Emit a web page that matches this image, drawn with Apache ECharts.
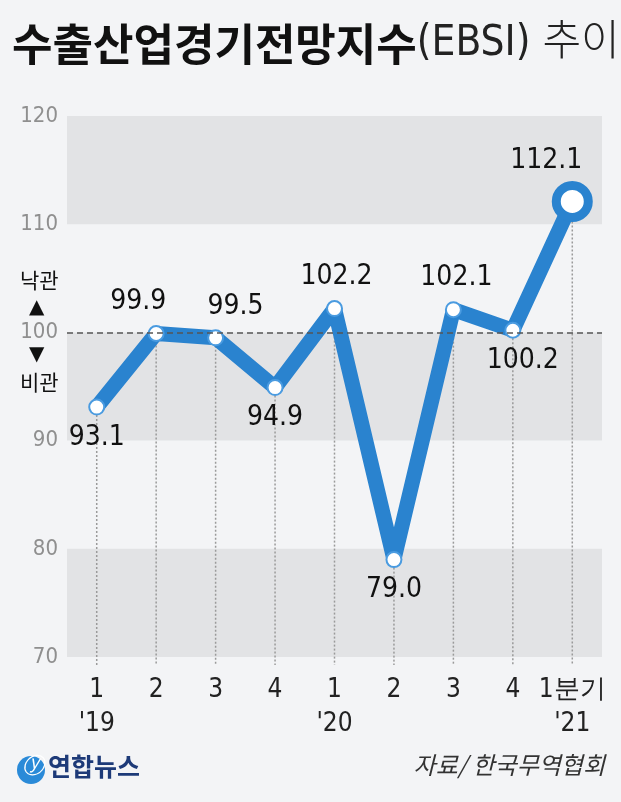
<!DOCTYPE html>
<html><head><meta charset="utf-8">
<script src="https://cdn.jsdelivr.net/npm/echarts@6/dist/echarts.min.js"></script>
<style>html,body{margin:0;padding:0;background:#f3f4f6}#c{width:621px;height:802px}</style>
</head><body><div id="c"></div>
<script>
const quarters = ['1','2','3','4','1','2','3','4','1분기'];
const years = ["'19",'','','',"'20",'','','',"'21"];
const ebsi = [93.1, 99.9, 99.5, 94.9, 102.2, 79.0, 102.1, 100.2, 112.1];
const labelPos = ['bottom','top','top','bottom','top','bottom','top','bottom','top'];
const labelShiftX = [0, -18, 20, 0, 2, 0, 3, 10, -26];
const yTicks = [70, 80, 90, 100, 110, 120];

const chart = echarts.init(document.getElementById('c'));
const numFont = "'DejaVu Sans Condensed','Liberation Sans Narrow','Liberation Sans',Arial,sans-serif";
const blue = '#2a83cf';

const seriesData = ebsi.map((v, i) => {
  const last = i === ebsi.length - 1;
  return {
    value: v,
    symbolSize: last ? 32 : 15,
    itemStyle: { color: '#ffffff', borderColor: last ? blue : '#4a9be0', borderWidth: last ? 9 : 2 },
    label: { position: labelPos[i], offset: [labelShiftX[i], 0], distance: last ? 6 : (labelPos[i] === 'top' ? 9 : 8) }
  };
});

chart.setOption({
  backgroundColor: '#f3f4f6',
  animation: false,
  grid: { left: 67, right: 19, top: 116, bottom: 145 },
  xAxis: {
    type: 'category',
    data: quarters.map((q, i) => q + '\n' + years[i]),
    boundaryGap: true,
    axisLine: { show: false },
    axisTick: { show: false },
    axisLabel: { color: '#222', fontSize: 26, fontFamily: numFont, lineHeight: 34, margin: 16, interval: 0 }
  },
  yAxis: {
    type: 'value',
    min: 70, max: 120, interval: 10,
    axisLine: { show: false },
    axisTick: { show: false },
    splitLine: { show: false },
    splitArea: { show: true, areaStyle: { color: ['#e2e3e5', 'rgba(0,0,0,0)'] } },
    axisLabel: { color: '#8f8f8f', fontSize: 22, fontFamily: numFont, margin: 9 }
  },
  series: [
    {
      type: 'custom',
      z: 1,
      data: ebsi.map((v, i) => [i, v]),
      renderItem: function (params, api) {
        const p = api.coord([api.value(0), api.value(1)]);
        const b = api.coord([api.value(0), 70]);
        return {
          type: 'line',
          shape: { x1: p[0], y1: p[1], x2: b[0], y2: b[1] + 8 },
          style: { stroke: '#9a9a9a', lineWidth: 1.5, lineDash: [2, 2] }
        };
      },
      silent: true
    },
    {
      type: 'line',
      z: 3,
      data: seriesData,
      symbol: 'circle',
      lineStyle: { color: blue, width: 15, cap: 'round', join: 'round' },
      label: { show: true, color: '#111', fontSize: 28, fontFamily: numFont, formatter: p => p.value.toFixed(1) },
      markLine: {
        silent: true,
        symbol: 'none',
        label: { show: false },
        lineStyle: { color: '#555', type: [6, 4], width: 1.5 },
        data: [{ yAxis: 100 }]
      }
    }
  ],
  graphic: [
    { type: 'text', left: 12, top: 22, style: {
      text: '{b|수출산업경기전망지수}{l|(EBSI) 추이}',
      rich: {
        b: { fontSize: 44, fontWeight: 'bold', fill: '#111', fontFamily: "'Noto Sans CJK KR',sans-serif" },
        l: { fontSize: 42, fontWeight: 300, fill: '#222', fontFamily: "'DejaVu Sans Condensed','Noto Sans CJK KR',sans-serif" }
      } } },
    { type: 'text', left: 20, top: 270, style: { text: '낙관', fontSize: 21, fill: '#111', fontFamily: "'Noto Sans CJK KR',sans-serif" } },
    { type: 'text', left: 29, top: 298, style: { text: '▲', fontSize: 20, fill: '#111', fontFamily: 'DejaVu Sans' } },
    { type: 'text', left: 29, top: 345, style: { text: '▼', fontSize: 20, fill: '#111', fontFamily: 'DejaVu Sans' } },
    { type: 'text', left: 20, top: 372, style: { text: '비관', fontSize: 21, fill: '#111', fontFamily: "'Noto Sans CJK KR',sans-serif" } },
    { type: 'circle', shape: { cx: 31, cy: 770, r: 14 }, style: { fill: '#2a8ad8' } },
    { type: 'text', left: 22, top: 756, style: { text: 'ⓨ', fontSize: 22, fill: '#ffffff', fontStyle: 'italic' } },
    { type: 'text', left: 48, top: 754, style: { text: '연합뉴스', fontSize: 25, fontWeight: 'bold', fill: '#1d3a78', fontFamily: "'Noto Sans CJK KR',sans-serif" } },
    { type: 'text', right: 16, top: 753, style: { text: '자료/ 한국무역협회', fontSize: 24, fill: '#333', fontStyle: 'italic', fontFamily: "'Noto Sans CJK KR',sans-serif" } }
  ]
});
</script></body></html>
